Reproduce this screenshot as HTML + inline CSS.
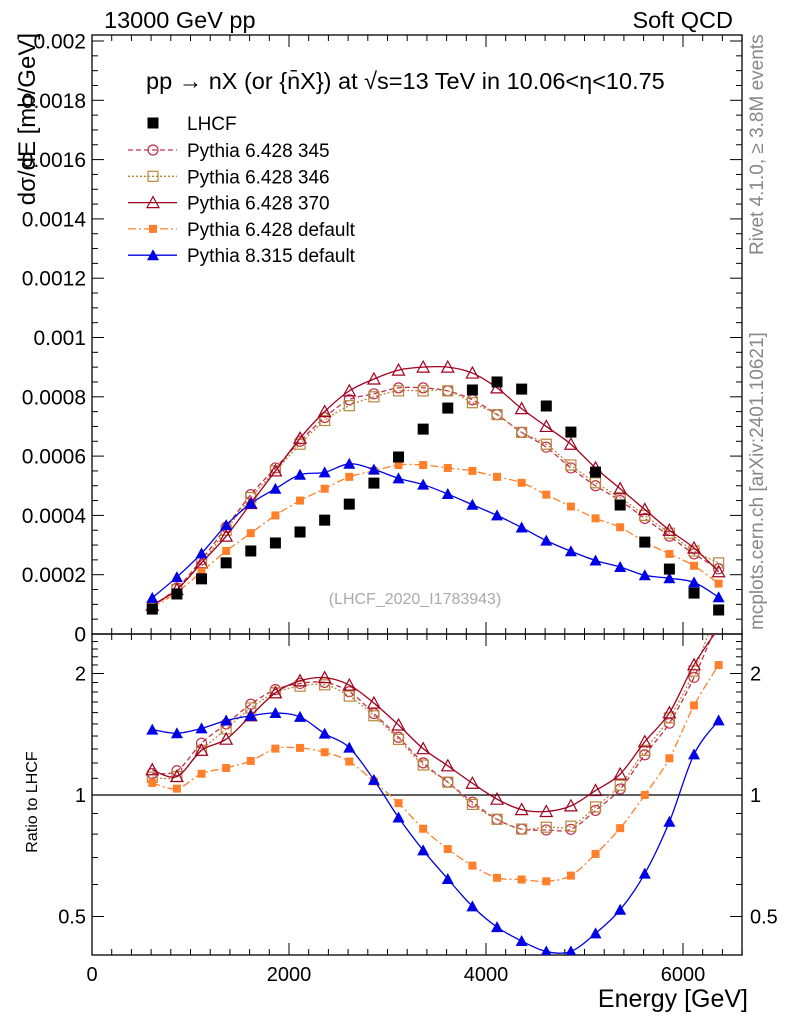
<!DOCTYPE html>
<html><head><meta charset="utf-8"><style>
html,body{margin:0;padding:0;background:#fff;}
svg{display:block;font-family:"Liberation Sans",sans-serif;}
</style></head><body>
<svg id="chart" width="786" height="1024" viewBox="0 0 786 1024">
<defs>
<clipPath id="cm"><rect x="92" y="35" width="650" height="599"/></clipPath>
<clipPath id="cr"><rect x="92" y="634" width="650" height="321"/></clipPath>
</defs>
<g id="axes"></g>
<g id="marks"></g>
<text x="104" y="28" font-size="23.5">13000 GeV pp</text>
<text x="733" y="28" font-size="23.5" text-anchor="end">Soft QCD</text>
<text x="146" y="89" font-size="23.5">pp  →  nX (or {n̄X}) at √s=13 TeV in 10.06&lt;η&lt;10.75</text>
<text x="415" y="604" font-size="16" fill="#aaa" text-anchor="middle">(LHCF_2020_I1783943)</text>
<text transform="translate(763,255) rotate(-90)" font-size="19" fill="#888">Rivet 4.1.0, ≥ 3.8M events</text>
<text transform="translate(763,630) rotate(-90)" font-size="19" fill="#888">mcplots.cern.ch [arXiv:2401.10621]</text>
<text transform="translate(35,33) rotate(-90)" font-size="24" text-anchor="end">dσ/dE [mb/GeV]</text>
<text transform="translate(37,802) rotate(-90)" font-size="16" text-anchor="middle">Ratio to LHCF</text>
<text x="748" y="1007" font-size="25" text-anchor="end">Energy [GeV]</text>
<g id="legend"></g>
</svg>
<script>
const energies=[612,862,1112,1362,1612,1862,2112,2362,2612,2862,3112,3362,3612,3862,4112,4362,4612,4862,5112,5362,5612,5862,6112,6362];
const lhcf=[0.000084,0.000135,0.000186,0.00024,0.00028,0.000307,0.000344,0.000384,0.000438,0.000509,0.000597,0.000691,0.000762,0.000823,0.00085,0.000826,0.000769,0.000681,0.000546,0.000435,0.00031,0.000219,0.000138,0.000081];
const py345=[0.000095,0.000155,0.00025,0.00036,0.00047,0.00056,0.00065,0.00073,0.00079,0.00081,0.00083,0.00083,0.00082,0.00079,0.00074,0.00068,0.00063,0.00056,0.0005,0.00045,0.00039,0.00033,0.00027,0.00022];
const py346=[0.000093,0.00015,0.00024,0.00035,0.00046,0.00055,0.00064,0.00072,0.00077,0.0008,0.00082,0.00082,0.00082,0.00078,0.00074,0.00068,0.00064,0.00057,0.00051,0.00046,0.0004,0.00034,0.00028,0.00024];
const py370=[0.000097,0.00015,0.00024,0.00033,0.00044,0.00055,0.00066,0.00075,0.00082,0.00086,0.00089,0.0009,0.0009,0.00088,0.00083,0.00076,0.0007,0.00064,0.00056,0.00049,0.00042,0.00035,0.00029,0.00021];
const py6def=[0.00009,0.00014,0.00021,0.00028,0.00034,0.0004,0.00045,0.00049,0.00053,0.00055,0.00057,0.00057,0.00056,0.00055,0.00053,0.00051,0.00047,0.00043,0.00039,0.00036,0.00031,0.00027,0.00023,0.00017];
const py8def=[0.000122,0.000192,0.000272,0.000367,0.00044,0.00049,0.000537,0.000545,0.000574,0.000555,0.000525,0.000504,0.000472,0.000436,0.0004,0.000359,0.000315,0.000279,0.000248,0.000226,0.000198,0.000188,0.000174,0.000124];
const xTicks=[0,2000,4000,6000];
const yTicks=[0,0.0002,0.0004,0.0006,0.0008,0.001,0.0012,0.0014,0.0016,0.0018,0.002];
const yTickLabels=["0","0.0002","0.0004","0.0006","0.0008","0.001","0.0012","0.0014","0.0016","0.0018","0.002"];
const rTicks=[0.5,1,2];
const rTickLabels=["0.5","1","2"];

const NS="http://www.w3.org/2000/svg";
const X0=92,X1=742,YT=35,YM=634,YB=955;
const x=v=>X0+v*0.0985;
const y=v=>YM-v*296500;
const yr=r=>795-121.5*Math.log2(r);
function el(tag,attrs,parent){const e=document.createElementNS(NS,tag);for(const k in attrs)e.setAttribute(k,attrs[k]);parent.appendChild(e);return e;}
const axes=document.getElementById('axes'),marks=document.getElementById('marks'),legend=document.getElementById('legend');

let f=el('rect',{x:X0,y:YT,width:X1-X0,height:YM-YT,fill:'none',stroke:'#000','stroke-width':1.3},axes);


f=el('rect',{x:X0,y:YM,width:X1-X0,height:YB-YM,fill:'none',stroke:'#000','stroke-width':1.3},axes);


let ln=el('line',{x1:X0,x2:X1,y1:yr(1),y2:yr(1),stroke:'#000','stroke-width':1.2},axes);



for(let v=0;v<=6600;v+=200){const major=v%2000===0;const len=major?12:6;
 for(const [yy,d] of [[YM,-1],[YT,1],[YB,-1],[YM,1]]){el('line',{x1:x(v),x2:x(v),y1:yy,y2:yy+d*len,stroke:'#000'},axes);}
}
xTicks.forEach(v=>{const t=el('text',{x:x(v),y:981,'font-size':20,'text-anchor':'middle'},axes);t.textContent=v;
 
 });
for(let v=0;v<=0.002001;v+=0.00005){const major=Math.round(v/0.00005)%4===0;const len=major?12:6;
 el('line',{x1:X0,x2:X0+len,y1:y(v),y2:y(v),stroke:'#000'},axes);
 el('line',{x1:X1,x2:X1-len,y1:y(v),y2:y(v),stroke:'#000'},axes);}
yTicks.forEach((v,i)=>{const t=el('text',{x:86,y:y(v)+7.5,'font-size':21,'text-anchor':'end'},axes);t.textContent=yTickLabels[i];
 
 });
for(let r=0.4;r<=2.5;r+=0.1){const major=[0.5,1,2].some(m=>Math.abs(m-r)<1e-6);const len=major?12:6;const yy=yr(r);
 if(yy<YM||yy>YB)continue;
 el('line',{x1:X0,x2:X0+len,y1:yy,y2:yy,stroke:'#000'},axes);
 el('line',{x1:X1,x2:X1-len,y1:yy,y2:yy,stroke:'#000'},axes);}
rTicks.forEach((r,i)=>{let t=el('text',{x:86,y:yr(r)+7,'font-size':20,'text-anchor':'end'},axes);t.textContent=rTickLabels[i];
 
 
 t=el('text',{x:750,y:yr(r)+7,'font-size':20},axes);t.textContent=rTickLabels[i];
 
 });

function smooth(pts){let d='M'+pts[0][0]+','+pts[0][1];
 for(let i=0;i<pts.length-1;i++){const p0=pts[i-1]||pts[i],p1=pts[i],p2=pts[i+1],p3=pts[i+2]||p2;
  d+=' C'+(p1[0]+(p2[0]-p0[0])/6)+','+(p1[1]+(p2[1]-p0[1])/6)+' '+(p2[0]-(p3[0]-p1[0])/6)+','+(p2[1]-(p3[1]-p1[1])/6)+' '+p2[0]+','+p2[1];}
 return d;}
function marker(type,col,cx,cy,parent,s){
 s=s||1;
 if(type==='circle')return el('circle',{cx,cy,r:5*s,fill:'none',stroke:col,'stroke-width':1.2},parent);
 if(type==='osq')return el('rect',{x:cx-5*s,y:cy-5*s,width:10*s,height:10*s,fill:'none',stroke:col,'stroke-width':1.2},parent);
 if(type==='otri')return el('path',{d:`M${cx},${cy-6*s}L${cx+6*s},${cy+5*s}L${cx-6*s},${cy+5*s}Z`,fill:'none',stroke:col,'stroke-width':1.2},parent);
 if(type==='fsq')return el('rect',{x:cx-4*s,y:cy-4*s,width:8*s,height:8*s,fill:col},parent);
 if(type==='ftri')return el('path',{d:`M${cx},${cy-6*s}L${cx+6*s},${cy+5*s}L${cx-6*s},${cy+5*s}Z`,fill:col},parent);
 if(type==='bsq')return el('rect',{x:cx-5.5,y:cy-5.5,width:11,height:11,fill:col},parent);
}
const series=[
 {name:'pythia-6-428-345',label:'Pythia 6.428 345',vals:py345,col:'#c0304a',dash:'5,3',m:'circle'},
 {name:'pythia-6-428-346',label:'Pythia 6.428 346',vals:py346,col:'#b8863b',dash:'2,2',m:'osq'},
 {name:'pythia-6-428-370',label:'Pythia 6.428 370',vals:py370,col:'#a0001e',dash:'',m:'otri'},
 {name:'pythia-6-428-default',label:'Pythia 6.428 default',vals:py6def,col:'#ff7f2a',dash:'8,3,2,3',m:'fsq'},
 {name:'pythia-8-315-default',label:'Pythia 8.315 default',vals:py8def,col:'#0000e6',dash:'',m:'ftri'}
];
const gm=el('g',{'clip-path':'url(#cm)'},marks),gr=el('g',{'clip-path':'url(#cr)'},marks);
series.forEach(s=>{
 const pm=energies.map((e,i)=>[x(e),y(s.vals[i])]);
 const pr=energies.map((e,i)=>[x(e),yr(s.vals[i]/lhcf[i])]);
 let p=el('path',{d:smooth(pm),fill:'none',stroke:s.col,'stroke-width':1.3,'stroke-dasharray':s.dash},gm);
 
 
 p=el('path',{d:smooth(pr),fill:'none',stroke:s.col,'stroke-width':1.3,'stroke-dasharray':s.dash},gr);
 
 
 pm.forEach(q=>{const m=marker(s.m,s.col,q[0],q[1],gm);
  
  });
 pr.forEach(q=>{const m=marker(s.m,s.col,q[0],q[1],gr);
  
  });
});
energies.forEach((e,i)=>{const m=marker('bsq','#000',x(e),y(lhcf[i]),gm);
 
 });

let ly=123;
let lm=marker('bsq','#000',153,ly,legend);


let lt=el('text',{x:187,y:ly+7,'font-size':19},legend);lt.textContent='LHCF';


series.forEach((s,i)=>{const yy=150+i*26.3;
 el('line',{x1:128,x2:177,y1:yy,y2:yy,stroke:s.col,'stroke-width':1.3,'stroke-dasharray':s.dash},legend);
 const m=marker(s.m,s.col,153,yy,legend);
 
 
 const t=el('text',{x:187,y:yy+7,'font-size':19},legend);t.textContent=s.label;
 
 
});
</script>
</body></html>
